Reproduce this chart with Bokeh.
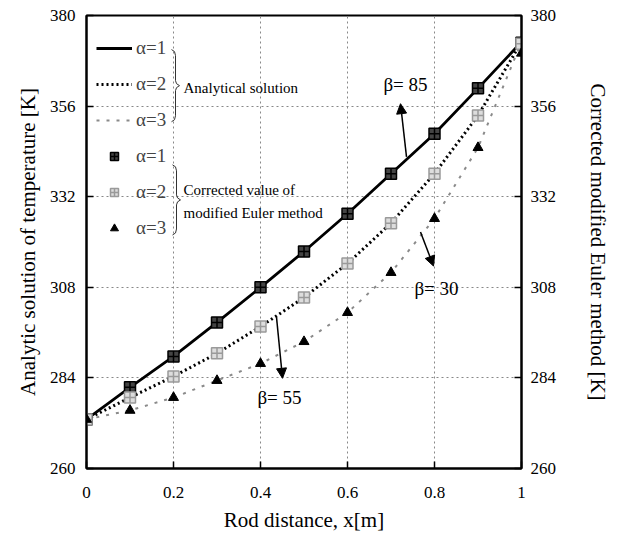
from bokeh.plotting import figure
from bokeh.models import (LinearAxis, FixedTicker, Legend, LegendItem, Label,
                          Arrow, NormalHead, Range1d)
from bokeh.embed import file_html
from bokeh.resources import INLINE

# ---------------- data ----------------
x_pos = [0.0, 0.1, 0.2, 0.3, 0.4, 0.5, 0.6, 0.7, 0.8, 0.9, 1.0]
analytic_a1 = [273.0, 281.5, 289.7, 298.7, 308.0, 317.5, 327.5, 338.1, 348.7, 360.7, 373.0]
analytic_a2 = [273.0, 278.8, 284.4, 290.5, 297.6, 305.3, 314.3, 325.0, 338.1, 353.5, 373.0]
analytic_a3 = [273.0, 275.4, 278.8, 283.3, 287.8, 293.6, 301.3, 311.9, 326.2, 345.0, 373.0]
euler_a1 = [273.0, 281.5, 289.7, 298.7, 308.0, 317.5, 327.5, 338.1, 348.7, 360.7, 372.8]
euler_a2 = [273.0, 278.8, 284.4, 290.5, 297.6, 305.3, 314.3, 325.0, 338.1, 353.5, 372.5]
euler_a3 = [273.0, 275.4, 278.8, 283.3, 287.8, 293.6, 301.3, 311.9, 326.2, 345.0, 370.0]
x_ticks = [0, 0.2, 0.4, 0.6, 0.8, 1.0]
x_tick_labels = ["0", "0.2", "0.4", "0.6", "0.8", "1"]
y_ticks = [260, 284, 308, 332, 356, 380]
series_labels = ["α=1", "α=2", "α=3"]

FONT = "Liberation Serif"

p = figure(width=614, height=548, output_backend="svg", toolbar_location=None,
           x_range=Range1d(0, 1), y_range=Range1d(260, 380),
           min_border_left=86, min_border_right=93, min_border_top=15,
           min_border_bottom=80)
p.background_fill_color = "white"
p.border_fill_color = "white"
p.outline_line_color = "black"
p.outline_line_width = 2

# grid
p.xgrid.ticker = FixedTicker(ticks=x_ticks[1:-1])
p.ygrid.ticker = FixedTicker(ticks=y_ticks[1:-1])
for g in (p.xgrid, p.ygrid):
    g.grid_line_color = "#888888"
    g.grid_line_dash = "2 3"
    g.grid_line_width = 1

# axes
p.add_layout(LinearAxis(), "right")
p.xaxis.ticker = FixedTicker(ticks=x_ticks)
p.xaxis.major_label_overrides = {t: l for t, l in zip(x_ticks, x_tick_labels)}
p.yaxis.ticker = FixedTicker(ticks=y_ticks)
for ax in p.xaxis + p.yaxis:
    ax.axis_line_color = "black"
    ax.axis_line_width = 2
    ax.major_tick_in = 7
    ax.major_tick_out = 0
    ax.major_tick_line_width = 1.5
    ax.minor_tick_line_color = None
    ax.major_label_text_font = FONT
    ax.major_label_text_font_size = "17px"
    ax.major_label_text_color = "black"
    ax.axis_label_text_font = FONT
    ax.axis_label_text_font_size = "21px"
    ax.axis_label_text_font_style = "normal"
    ax.axis_label_text_color = "black"

p.xaxis.axis_label = "Rod distance, x[m]"
p.xaxis.major_label_standoff = 18
p.xaxis.axis_label_standoff = 7
left_ax, right_ax = p.yaxis[0], p.yaxis[1]
left_ax.axis_label = "Analytic solution of temperature [K]"
left_ax.major_label_standoff = 11
left_ax.axis_label_standoff = 7
right_ax.axis_label = "Corrected modified Euler method [K]"
right_ax.major_label_standoff = 9
right_ax.axis_label_standoff = 27

# analytic lines
l1 = p.line(x_pos, analytic_a1, line_color="black", line_width=2.8)
l2 = p.line(x_pos, analytic_a2, line_color="black", line_width=3, line_dash="2 3")
l3 = p.line(x_pos, analytic_a3, line_color="#8a8a8a", line_width=2, line_dash="3 7")

# corrected modified Euler markers
s1 = p.scatter(x_pos, euler_a1, marker="square_cross", size=11, fill_color="#444444",
               line_color="black", line_width=1.5)
s2 = p.scatter(x_pos, euler_a2, marker="square_cross", size=11, fill_color="#dddddd",
               line_color="#9a9a9a", line_width=1.5)
s3 = p.scatter(x_pos, euler_a3, marker="triangle", size=10, fill_color="black",
               line_color="black")

legend = Legend(items=[
    LegendItem(label=series_labels[0], renderers=[l1]),
    LegendItem(label=series_labels[1], renderers=[l2]),
    LegendItem(label=series_labels[2], renderers=[l3]),
    LegendItem(label=series_labels[0], renderers=[s1]),
    LegendItem(label=series_labels[1], renderers=[s2]),
    LegendItem(label=series_labels[2], renderers=[s3]),
], location=(10, 229))
legend.label_text_font = FONT
legend.label_text_font_size = "19px"
legend.glyph_width = 36
legend.glyph_height = 20
legend.label_height = 20
legend.spacing = 14
legend.padding = 0
legend.margin = 0
legend.label_standoff = 4
legend.border_line_alpha = 0
legend.background_fill_alpha = 0
p.add_layout(legend)

# ---- helpers for decoration placement (frame pixels -> data) ----
FX0, FX1, FY0, FY1 = 86.0, 521.0, 16.0, 468.0
def dx(px):
    return (px - FX0) / (FX1 - FX0)
def dy(py):
    return 380.0 - (py - FY0) * 120.0 / (FY1 - FY0)

def brace(x0, yt, yb):
    ym = (yt + yb) / 2.0
    pts = [(x0, yt), (x0 + 3, yt + 2), (x0 + 4, yt + 6), (x0 + 4, ym - 5),
           (x0 + 5, ym - 2), (x0 + 8, ym), (x0 + 5, ym + 2), (x0 + 4, ym + 5),
           (x0 + 4, yb - 6), (x0 + 3, yb - 2), (x0, yb)]
    return [dx(a) for a, _ in pts], [dy(b) for _, b in pts]

for (x0, yt, yb) in [(171, 50, 122), (172, 165, 235)]:
    bx, by = brace(x0, yt, yb)
    p.line(bx, by, line_color="#333333", line_width=1)

for txt, px, py in [("Analytical solution", 183, 88),
                    ("Corrected value of", 183, 190),
                    ("modified Euler method", 183, 213)]:
    p.add_layout(Label(x=dx(px), y=dy(py), text=txt, text_font=FONT,
                       text_font_size="15px", text_align="left",
                       text_baseline="middle", text_color="black"))

# beta annotations
for txt, px, py in [("β= 85", 405, 85), ("β= 30", 436, 288), ("β= 55", 279, 397)]:
    p.add_layout(Label(x=dx(px), y=dy(py), text=txt, text_font=FONT,
                       text_font_size="19px", text_align="center",
                       text_baseline="middle", text_color="black"))

for (sx, sy, ex, ey) in [(406, 157, 400, 104), (420, 232, 433, 266), (276, 317, 282, 378)]:
    p.add_layout(Arrow(x_start=dx(sx), y_start=dy(sy), x_end=dx(ex), y_end=dy(ey),
                       line_color="black", line_width=1.5,
                       end=NormalHead(size=10, fill_color="black", line_color="black")))

open("out.html", "w").write(file_html(p, INLINE))
